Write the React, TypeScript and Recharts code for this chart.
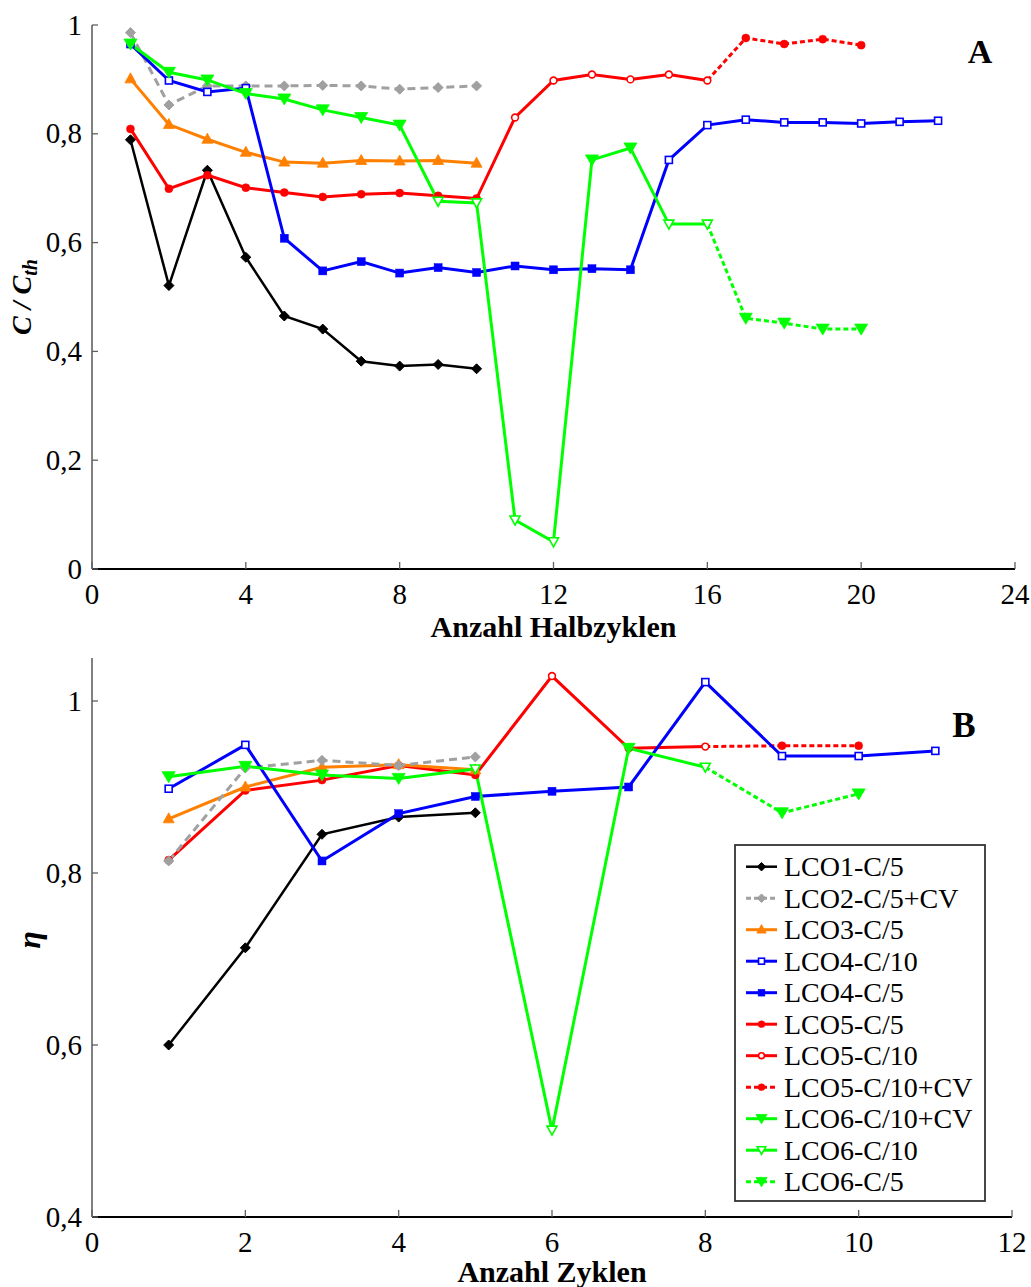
import React from 'react';
import { LineChart, Line, XAxis, YAxis, Label } from 'recharts';

const SERIF = 'Liberation Serif';

// ---------- categories ----------
const halfCycles = [1, 2, 3, 4, 5, 6, 7, 8, 9, 10, 11, 12, 13, 14, 15, 16, 17, 18, 19, 20, 21, 22];
const cycles = [1, 2, 3, 4, 5, 6, 7, 8, 9, 10, 11];

// ---------- tick labels ----------
const topXTicks = [0, 4, 8, 12, 16, 20, 24];
const topYTicks = [0, 0.2, 0.4, 0.6, 0.8, 1];
const botXTicks = [0, 2, 4, 6, 8, 10, 12];
const botYTicks = [0.4, 0.6, 0.8, 1];

// ---------- top panel: C / Cth over half cycles ----------
const topLco1C5 = [0.789, 0.521, 0.733, 0.573, 0.465, 0.441, 0.382, 0.373, 0.376, 0.368]; // 1-10
const topLco2C5CV = [0.986, 0.853, 0.888, 0.888, 0.888, 0.889, 0.888, 0.882, 0.885, 0.888]; // 1-10
const topLco3C5 = [0.901, 0.817, 0.79, 0.766, 0.748, 0.746, 0.751, 0.75, 0.751, 0.746]; // 1-10
const topLco4C10a = [0.965, 0.898, 0.877, 0.884]; // 1-4
const topLco4C5 = [0.608, 0.548, 0.565, 0.544, 0.554, 0.545, 0.557, 0.55, 0.552, 0.55]; // 5-14
const topLco4C10b = [0.752, 0.816, 0.826, 0.821, 0.821, 0.819, 0.822, 0.824]; // 15-22
const topLco5C5 = [0.809, 0.699, 0.724, 0.701, 0.692, 0.684, 0.689, 0.691, 0.686, 0.681]; // 1-10
const topLco5C10 = [0.83, 0.898, 0.909, 0.9, 0.909, 0.898]; // 11-16
const topLco5C10CV = [0.976, 0.965, 0.974, 0.963]; // 17-20
const topLco6C10CVa = [0.965, 0.913, 0.899, 0.874, 0.864, 0.844, 0.83, 0.816]; // 1-8
const topLco6C10a = [0.676, 0.673, 0.09, 0.05]; // 9-12
const topLco6C10CVb = [0.752, 0.774]; // 13-14
const topLco6C10b = [0.634, 0.634]; // 15-16
const topLco6C5 = [0.461, 0.452, 0.441, 0.441]; // 17-20

// ---------- bottom panel: eta over cycles ----------
const botLco1C5 = [0.6, 0.713, 0.845, 0.865, 0.87]; // 1-5
const botLco2C5CV = [0.814, 0.922, 0.931, 0.925, 0.935]; // 1-5
const botLco3C5 = [0.863, 0.9, 0.923, 0.926, 0.92]; // 1-5
const botLco4C10a = [0.898, 0.949]; // 1-2
const botLco4C5 = [0.814, 0.869, 0.889, 0.895, 0.9]; // 3-7
const botLco4C10b = [1.022, 0.936, 0.936, 0.942]; // 8-11
const botLco5C5 = [0.815, 0.896, 0.908, 0.925, 0.914]; // 1-5
const botLco5C10 = [1.029, 0.945, 0.947]; // 6-8
const botLco5C10CV = [0.948, 0.948]; // 9-10
const botLco6C10CVa = [0.912, 0.924, 0.914, 0.91]; // 1-4
const botLco6C10a = [0.921, 0.501]; // 5-6
const botLco6C10CVb = [0.945]; // 7
const botLco6C10b = [0.923]; // 8
const botLco6C5 = [0.87, 0.892]; // 9-10

// ---------- legend ----------
const legendNames = [
  'LCO1-C/5', 'LCO2-C/5+CV', 'LCO3-C/5', 'LCO4-C/10', 'LCO4-C/5', 'LCO5-C/5',
  'LCO5-C/10', 'LCO5-C/10+CV', 'LCO6-C/10+CV', 'LCO6-C/10', 'LCO6-C/5',
];
const BLACK = '#000000';
const GRAY = '#A0A0A0';
const ORANGE = '#FF8000';
const BLUE = '#0000FF';
const RED = '#FF0000';
const GREEN = '#00FF00';
const legendColors = [BLACK, GRAY, ORANGE, BLUE, BLUE, RED, RED, RED, GREEN, GREEN, GREEN];
const legendShapes = ['diamond', 'diamond', 'triUp', 'square', 'square', 'circle', 'circle', 'circle', 'triDown', 'triDown', 'triDown'];
const legendFilled = [true, true, true, false, true, true, false, true, true, false, true];
const legendDashed = [false, true, false, false, false, false, false, true, false, false, true];

type Seg = { name: string; start: number; values: number[] };
type Track = { key: string; color: string; width: number; dash?: string; joinFrom?: string; segs: Seg[] };

const topTracks: Track[] = [
  { key: 'lco1', color: BLACK, width: 2.5, segs: [{ name: 'LCO1-C/5', start: 1, values: topLco1C5 }] },
  { key: 'lco5', color: RED, width: 3, segs: [
    { name: 'LCO5-C/5', start: 1, values: topLco5C5 },
    { name: 'LCO5-C/10', start: 11, values: topLco5C10 },
  ] },
  { key: 'lco5cv', color: RED, width: 3, dash: '5 3', joinFrom: 'lco5', segs: [{ name: 'LCO5-C/10+CV', start: 17, values: topLco5C10CV }] },
  { key: 'lco3', color: ORANGE, width: 3, segs: [{ name: 'LCO3-C/5', start: 1, values: topLco3C5 }] },
  { key: 'lco2', color: GRAY, width: 3, dash: '8 5', segs: [{ name: 'LCO2-C/5+CV', start: 1, values: topLco2C5CV }] },
  { key: 'lco4', color: BLUE, width: 3, segs: [
    { name: 'LCO4-C/10', start: 1, values: topLco4C10a },
    { name: 'LCO4-C/5', start: 5, values: topLco4C5 },
    { name: 'LCO4-C/10', start: 15, values: topLco4C10b },
  ] },
  { key: 'lco6', color: GREEN, width: 3, segs: [
    { name: 'LCO6-C/10+CV', start: 1, values: topLco6C10CVa },
    { name: 'LCO6-C/10', start: 9, values: topLco6C10a },
    { name: 'LCO6-C/10+CV', start: 13, values: topLco6C10CVb },
    { name: 'LCO6-C/10', start: 15, values: topLco6C10b },
  ] },
  { key: 'lco6c5', color: GREEN, width: 3, dash: '5 3', joinFrom: 'lco6', segs: [{ name: 'LCO6-C/5', start: 17, values: topLco6C5 }] },
];

const botTracks: Track[] = [
  { key: 'lco1', color: BLACK, width: 2.5, segs: [{ name: 'LCO1-C/5', start: 1, values: botLco1C5 }] },
  { key: 'lco5', color: RED, width: 3, segs: [
    { name: 'LCO5-C/5', start: 1, values: botLco5C5 },
    { name: 'LCO5-C/10', start: 6, values: botLco5C10 },
  ] },
  { key: 'lco5cv', color: RED, width: 3, dash: '5 3', joinFrom: 'lco5', segs: [{ name: 'LCO5-C/10+CV', start: 9, values: botLco5C10CV }] },
  { key: 'lco3', color: ORANGE, width: 3, segs: [{ name: 'LCO3-C/5', start: 1, values: botLco3C5 }] },
  { key: 'lco2', color: GRAY, width: 3, dash: '8 5', segs: [{ name: 'LCO2-C/5+CV', start: 1, values: botLco2C5CV }] },
  { key: 'lco4', color: BLUE, width: 3, segs: [
    { name: 'LCO4-C/10', start: 1, values: botLco4C10a },
    { name: 'LCO4-C/5', start: 3, values: botLco4C5 },
    { name: 'LCO4-C/10', start: 8, values: botLco4C10b },
  ] },
  { key: 'lco6', color: GREEN, width: 3, segs: [
    { name: 'LCO6-C/10+CV', start: 1, values: botLco6C10CVa },
    { name: 'LCO6-C/10', start: 5, values: botLco6C10a },
    { name: 'LCO6-C/10+CV', start: 7, values: botLco6C10CVb },
    { name: 'LCO6-C/10', start: 8, values: botLco6C10b },
  ] },
  { key: 'lco6c5', color: GREEN, width: 3, dash: '5 3', joinFrom: 'lco6', segs: [{ name: 'LCO6-C/5', start: 9, values: botLco6C5 }] },
];

function buildRows(xs: number[], tracks: Track[]) {
  const rows: Record<string, any>[] = xs.map((x) => ({ x }));
  for (const t of tracks) {
    if (t.joinFrom) {
      let last = -1;
      rows.forEach((r, i) => { if (r[t.joinFrom as string] != null) last = i; });
      if (last >= 0) {
        rows[last][t.key] = rows[last][t.joinFrom];
        rows[last][t.key + '__m'] = 'none';
      }
    }
    for (const s of t.segs) {
      s.values.forEach((v, i) => {
        const r = rows[xs.indexOf(s.start + i)];
        r[t.key] = v;
        r[t.key + '__m'] = s.name;
      });
    }
  }
  return rows;
}

const topRows = buildRows(halfCycles, topTracks);
const botRows = buildRows(cycles, botTracks);

function Marker({ shape, cx, cy, color, filled, k = 1 }: any) {
  const fill = filled ? color : '#FFFFFF';
  const sw = 1.6;
  if (shape === 'diamond') {
    const s = 5 * k;
    return <polygon points={`${cx},${cy - s} ${cx + s},${cy} ${cx},${cy + s} ${cx - s},${cy}`} fill={fill} stroke={color} strokeWidth={1} />;
  }
  if (shape === 'square') {
    const s = (filled ? 4 : 3.5) * k;
    return <rect x={cx - s} y={cy - s} width={2 * s} height={2 * s} fill={fill} stroke={color} strokeWidth={filled ? 0.5 : sw} />;
  }
  if (shape === 'circle') {
    const r = (filled ? 4 : 3.4) * k;
    return <circle cx={cx} cy={cy} r={r} fill={fill} stroke={color} strokeWidth={filled ? 0.5 : sw} />;
  }
  if (shape === 'triUp') {
    const w = 5.5 * k;
    return <polygon points={`${cx},${cy - 6 * k} ${cx + w},${cy + 4 * k} ${cx - w},${cy + 4 * k}`} fill={fill} stroke={color} strokeWidth={0.8} />;
  }
  const w = (filled ? 6.5 : 5) * k;
  const up = (filled ? 5 : 4) * k;
  const dn = (filled ? 6 : 5) * k;
  return <polygon points={`${cx - w},${cy - up} ${cx + w},${cy - up} ${cx},${cy + dn}`} fill={fill} stroke={color} strokeWidth={filled ? 0.8 : sw} />;
}

const makeDot = (key: string) => (props: any) => {
  const { cx, cy, payload, index } = props;
  const name = payload ? payload[key + '__m'] : undefined;
  const kk = `${key}-${index}`;
  if (cx == null || cy == null || !name || name === 'none' || payload[key] == null) return <g key={kk} />;
  const i = legendNames.indexOf(name);
  return (
    <g key={kk}>
      <Marker shape={legendShapes[i]} cx={cx} cy={cy} color={legendColors[i]} filled={legendFilled[i]} />
    </g>
  );
};

const fmt = (v: number) => (v === 0 ? '0' : v === 1 ? '1' : v.toFixed(1).replace('.', ','));

const XTick = (props: any) => {
  const { x, y, payload } = props;
  return (
    <g>
      <line x1={x} y1={y} x2={x} y2={y - 7} stroke="#606060" strokeWidth={1.3} />
      <text x={x} y={y + 35} textAnchor="middle" fill="#000" fontSize={29} style={{ fontFamily: SERIF }}>{payload.value}</text>
    </g>
  );
};

const YTick = (props: any) => {
  const { x, y, payload } = props;
  return (
    <g>
      <line x1={x} y1={y} x2={x + 6} y2={y} stroke="#606060" strokeWidth={1.3} />
      <text x={x - 10} y={y + 9.5} textAnchor="end" fill="#000" fontSize={29} style={{ fontFamily: SERIF }}>{fmt(payload.value)}</text>
    </g>
  );
};

function renderTracks(tracks: Track[]) {
  return tracks.map((t) => (
    <Line
      key={t.key}
      type="linear"
      dataKey={t.key}
      stroke={t.color}
      strokeWidth={t.width}
      strokeDasharray={t.dash}
      dot={makeDot(t.key)}
      activeDot={false}
      connectNulls={false}
      isAnimationActive={false}
      legendType="none"
    />
  ));
}

export default function App() {
  return (
    <div style={{ position: 'absolute', left: 0, top: 0, width: 1031, height: 1287, background: '#fff' }}>
      <div style={{ position: 'absolute', left: 0, top: 0 }}>
        <LineChart width={1031} height={650} data={topRows} margin={{ top: 25, right: 16, bottom: 0, left: 0 }}>
          <XAxis
            dataKey="x" type="number" domain={[0, 24]} ticks={topXTicks} interval={0}
            height={81} tickSize={0} tickMargin={0} tickLine={false} tick={XTick}
            axisLine={{ stroke: '#000', strokeWidth: 2 }}
          >
            <Label
              content={(p: any) => {
                const vb = p.viewBox || { x: 92, width: 923, y: 569, height: 81 };
                return (
                  <text x={vb.x + vb.width / 2} y={vb.y + vb.height - 13} textAnchor="middle" fontSize={30} fontWeight="bold" fill="#000" style={{ fontFamily: SERIF }}>Anzahl Halbzyklen</text>
                );
              }}
            />
          </XAxis>
          <YAxis
            type="number" domain={[0, 1]} ticks={topYTicks} interval={0}
            width={92} tickSize={0} tickMargin={0} tickLine={false} tick={YTick}
            axisLine={{ stroke: '#808080', strokeWidth: 2 }}
          >
            <Label
              content={() => (
                <text transform="translate(31,297) rotate(-90)" textAnchor="middle" fontSize={28} fontWeight="bold" fontStyle="italic" fill="#000" style={{ fontFamily: SERIF }}>
                  <tspan>C / C</tspan>
                  <tspan dy={6} fontSize={20}>th</tspan>
                </text>
              )}
            />
          </YAxis>
          {renderTracks(topTracks)}
        </LineChart>
      </div>
      <div style={{ position: 'absolute', left: 0, top: 650 }}>
        <LineChart width={1031} height={637} data={botRows} margin={{ top: 8, right: 19, bottom: 0, left: 0 }}>
          <XAxis
            dataKey="x" type="number" domain={[0, 12]} ticks={botXTicks} interval={0}
            height={70} tickSize={0} tickMargin={0} tickLine={false} tick={XTick}
            axisLine={{ stroke: '#000', strokeWidth: 2 }}
          >
            <Label
              content={(p: any) => {
                const vb = p.viewBox || { x: 92, width: 920, y: 567, height: 70 };
                return (
                  <text x={vb.x + vb.width / 2} y={vb.y + vb.height - 5} textAnchor="middle" fontSize={30} fontWeight="bold" fill="#000" style={{ fontFamily: SERIF }}>Anzahl Zyklen</text>
                );
              }}
            />
          </XAxis>
          <YAxis
            type="number" domain={[0.4, 1.05]} ticks={botYTicks} interval={0}
            width={92} tickSize={0} tickMargin={0} tickLine={false} tick={YTick}
            axisLine={{ stroke: '#808080', strokeWidth: 2 }}
          >
            <Label
              content={() => (
                <text transform="translate(40,290) rotate(-90)" textAnchor="middle" fontSize={32} fontWeight="bold" fontStyle="italic" fill="#000" style={{ fontFamily: SERIF }}>
                  η
                </text>
              )}
            />
          </YAxis>
          {renderTracks(botTracks)}
        </LineChart>
      </div>
      <svg width={1031} height={1287} style={{ position: 'absolute', left: 0, top: 0, pointerEvents: 'none' }}>
        <text x={980} y={63} textAnchor="middle" fontSize={34} fontWeight="bold" fill="#000" style={{ fontFamily: SERIF }}>A</text>
        <text x={964} y={737} textAnchor="middle" fontSize={35} fontWeight="bold" fill="#000" style={{ fontFamily: SERIF }}>B</text>
        <g transform="translate(735,845)">
          <rect x={0} y={0} width={250} height={356} fill="#fff" stroke="#333" strokeWidth={1.8} />
          {legendNames.map((n, i) => {
            const cy = 21.7 + 31.5 * i;
            return (
              <g key={n}>
                <line x1={11} y1={cy} x2={42} y2={cy} stroke={legendColors[i]} strokeWidth={legendColors[i] === BLACK ? 2.5 : 3} strokeDasharray={legendDashed[i] ? '5 3' : undefined} />
                <Marker shape={legendShapes[i]} cx={26.5} cy={cy} color={legendColors[i]} filled={legendFilled[i]} k={0.85} />
                <text x={49} y={cy + 9.5} fontSize={28} fill="#000" style={{ fontFamily: SERIF }}>{n}</text>
              </g>
            );
          })}
        </g>
      </svg>
    </div>
  );
}
